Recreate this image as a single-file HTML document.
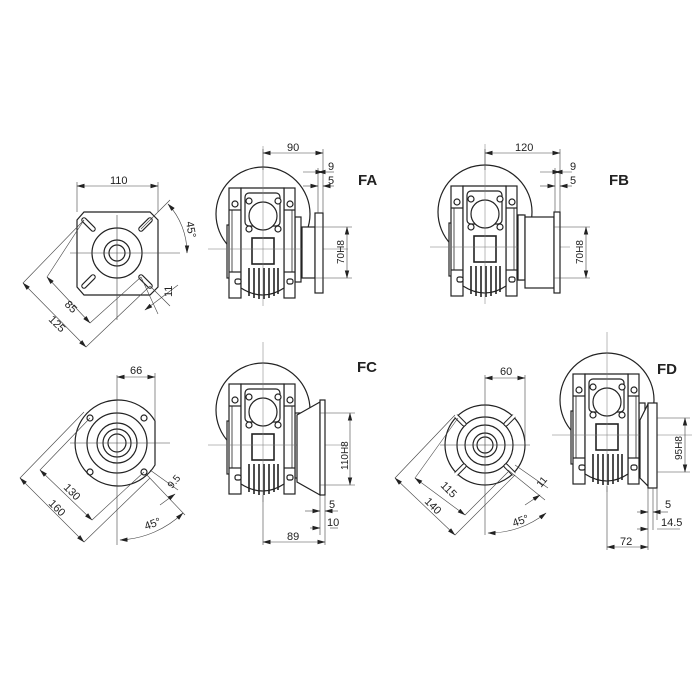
<!DOCTYPE html>
<html><head><meta charset="utf-8"><style>
html,body{margin:0;padding:0;background:#fff;width:700px;height:700px;overflow:hidden}
svg{display:block}
text{font-family:"Liberation Sans",sans-serif;fill:#222}
</style></head><body>
<svg width="700" height="700" viewBox="0 0 700 700" xmlns="http://www.w3.org/2000/svg">
<defs>
<marker id="a" markerWidth="8" markerHeight="6" refX="7.5" refY="3" orient="auto-start-reverse" markerUnits="userSpaceOnUse"><path d="M0,0.8 L8,3 L0,5.2z" fill="#222"/></marker>
<g id="gb" stroke="#222" fill="#fff" stroke-width="1.2">
  <circle cx="0" cy="-2" r="47" fill="none"/>
  <rect x="-36" y="9" width="4" height="53"/>
  <rect x="32" y="1" width="6" height="65"/>
  <rect x="-34" y="-28" width="12" height="110"/>
  <rect x="21" y="-28" width="11" height="110"/>
  <path d="M-22,-28 H21 V72 Q0,86 -22,72Z"/>
  <line x1="-34" y1="-6" x2="-22" y2="-6"/><line x1="21" y1="-6" x2="32" y2="-6"/>
  <line x1="-34" y1="56" x2="-22" y2="56"/><line x1="21" y1="56" x2="32" y2="56"/>
  <line x1="-31" y1="-6" x2="-31" y2="56" stroke-width="0.8"/><line x1="29" y1="-6" x2="29" y2="56" stroke-width="0.8"/>
  <rect x="-18" y="-23" width="35" height="33" rx="4"/>
  <circle cx="0" cy="0" r="14"/>
  <circle cx="-14" cy="-15" r="3"/><circle cx="15" cy="-15" r="3"/>
  <circle cx="-14" cy="13" r="3"/><circle cx="15" cy="13" r="3"/>
  <circle cx="-28" cy="-12" r="3"/><circle cx="27" cy="-12" r="3"/>
  <rect x="-28" y="63" width="6" height="5" rx="2"/><rect x="24" y="63" width="6" height="5" rx="2"/>
  <rect x="-11" y="22" width="22" height="26" stroke-width="1.6"/>
  <g stroke-width="1.6"><line x1="-14" y1="52" x2="-14" y2="80"/><line x1="-9" y1="52" x2="-9" y2="82"/><line x1="-4" y1="52" x2="-4" y2="83"/><line x1="1" y1="52" x2="1" y2="83"/><line x1="6" y1="52" x2="6" y2="82"/><line x1="11" y1="52" x2="11" y2="80"/><line x1="15" y1="52" x2="15" y2="78"/></g>
  <line x1="0" y1="-70" x2="0" y2="90" stroke-width="0.5" stroke="#777"/>
  <line x1="-55" y1="33" x2="85" y2="33" stroke-width="0.5" stroke="#777"/>
</g>
</defs>
<g font-size="11" stroke-linecap="butt">
<!-- FA bottom plate -->
<g stroke="#222" fill="none" stroke-width="1.2">
<path d="M84,212 H150 L158,220 V287 L150,295 H84 L77,287 V220 Z"/>
<circle cx="117" cy="253" r="25"/><circle cx="117" cy="253" r="13"/><circle cx="117" cy="253" r="8"/>
<g stroke-width="3" stroke="#fff"><line x1="84" y1="220" x2="94" y2="230"/><line x1="150" y1="220" x2="140" y2="230"/><line x1="84" y1="286" x2="94" y2="276"/><line x1="150" y1="286" x2="140" y2="276"/></g>
<g stroke-width="5.5" stroke="#222" stroke-linecap="round"><line x1="84" y1="220" x2="93" y2="229"/><line x1="150" y1="220" x2="141" y2="229"/><line x1="84" y1="286" x2="93" y2="277"/><line x1="150" y1="286" x2="141" y2="277"/></g>
<g stroke-width="3.3" stroke="#fff" stroke-linecap="round"><line x1="84" y1="220" x2="93" y2="229"/><line x1="150" y1="220" x2="141" y2="229"/><line x1="84" y1="286" x2="93" y2="277"/><line x1="150" y1="286" x2="141" y2="277"/></g>
</g>
<g stroke="#444" stroke-width="0.6" fill="none">
<line x1="117" y1="215" x2="117" y2="320"/><line x1="70" y1="253" x2="180" y2="253"/>
<line x1="77" y1="182" x2="77" y2="212"/><line x1="158" y1="182" x2="158" y2="212"/>
<line x1="77" y1="186" x2="158" y2="186" marker-start="url(#a)" marker-end="url(#a)"/>
<line x1="141" y1="229" x2="170" y2="200"/>
<path d="M168,204 A72,72 0 0 1 187,253" marker-start="url(#a)" marker-end="url(#a)"/>
<line x1="150" y1="286" x2="170" y2="306"/><line x1="141" y1="277" x2="158" y2="314"/>
<line x1="145" y1="310" x2="178" y2="285" marker-start="url(#a)"/>
<line x1="84" y1="220" x2="47" y2="277"/><line x1="141" y1="277" x2="90" y2="323"/>
<line x1="47" y1="277" x2="90" y2="323" marker-start="url(#a)" marker-end="url(#a)"/>
<line x1="84" y1="220" x2="23" y2="283"/><line x1="150" y1="286" x2="86" y2="347"/>
<line x1="23" y1="283" x2="86" y2="347" marker-start="url(#a)" marker-end="url(#a)"/>
</g>
<text x="110" y="184">110</text>
<text transform="translate(186,222) rotate(80)">45°</text>
<text transform="translate(172,297) rotate(-90)">11</text>
<text transform="translate(64,305) rotate(45)">85</text>
<text transform="translate(48,320) rotate(45)">125</text>

<!-- FA gearbox -->
<use href="#gb" x="263" y="216"/>
<g stroke="#222" fill="#fff" stroke-width="1.2"><rect x="302" y="227" width="13" height="51"/><rect x="315" y="213" width="8" height="80"/></g>
<g stroke="#444" stroke-width="0.6" fill="none">
<line x1="263" y1="149" x2="263" y2="170"/><line x1="323" y1="149" x2="323" y2="213"/><line x1="318" y1="168" x2="318" y2="213"/>
<line x1="263" y1="153" x2="323" y2="153" marker-start="url(#a)" marker-end="url(#a)"/>
<line x1="303" y1="172" x2="323" y2="172" marker-end="url(#a)"/><line x1="334" y1="172" x2="318" y2="172" marker-end="url(#a)"/>
<line x1="303" y1="186" x2="318" y2="186" marker-end="url(#a)"/><line x1="334" y1="186" x2="323" y2="186" marker-end="url(#a)"/>
<line x1="315" y1="227" x2="352" y2="227"/><line x1="315" y1="278" x2="352" y2="278"/>
<line x1="347" y1="227" x2="347" y2="278" marker-start="url(#a)" marker-end="url(#a)"/>
</g>
<text x="287" y="151">90</text><text x="328" y="170">9</text><text x="328" y="184">5</text>
<text transform="translate(344,264) rotate(-90)" font-size="10">70H8</text>
<text x="358" y="185" font-size="15" font-weight="bold">FA</text>

<!-- FB -->
<use href="#gb" x="485" y="214"/>
<g stroke="#222" fill="#fff" stroke-width="1.2"><rect x="518" y="215" width="7" height="65"/><rect x="525" y="217" width="29" height="71"/><rect x="554" y="212" width="6" height="81"/></g>
<g stroke="#444" stroke-width="0.6" fill="none">
<line x1="485" y1="149" x2="485" y2="170"/><line x1="560" y1="149" x2="560" y2="212"/><line x1="555" y1="168" x2="555" y2="212"/>
<line x1="485" y1="153" x2="560" y2="153" marker-start="url(#a)" marker-end="url(#a)"/>
<line x1="540" y1="172" x2="560" y2="172" marker-end="url(#a)"/><line x1="572" y1="172" x2="555" y2="172" marker-end="url(#a)"/>
<line x1="540" y1="186" x2="555" y2="186" marker-end="url(#a)"/><line x1="572" y1="186" x2="560" y2="186" marker-end="url(#a)"/>
<line x1="554" y1="227" x2="590" y2="227"/><line x1="554" y1="278" x2="590" y2="278"/>
<line x1="586" y1="227" x2="586" y2="278" marker-start="url(#a)" marker-end="url(#a)"/>
</g>
<text x="515" y="151">120</text><text x="570" y="170">9</text><text x="570" y="184">5</text>
<text transform="translate(583,264) rotate(-90)" font-size="10">70H8</text>
<text x="609" y="185" font-size="15" font-weight="bold">FB</text>

<!-- FC bottom -->
<g stroke="#222" fill="none" stroke-width="1.2">
<path d="M155,421 A43,43 0 1 0 155,465 Z"/>
<circle cx="117" cy="443" r="30"/><circle cx="117" cy="443" r="20"/><circle cx="117" cy="443" r="14"/><circle cx="117" cy="443" r="9"/>
<circle cx="90" cy="418" r="3"/><circle cx="144" cy="418" r="3"/><circle cx="90" cy="472" r="3"/><circle cx="144" cy="472" r="3"/>
</g>
<g stroke="#444" stroke-width="0.6" fill="none">
<line x1="117" y1="375" x2="117" y2="545"/><line x1="70" y1="443" x2="170" y2="443"/>
<line x1="155" y1="373" x2="155" y2="421"/>
<line x1="117" y1="377" x2="155" y2="377" marker-start="url(#a)" marker-end="url(#a)"/>
<line x1="90" y1="418" x2="40" y2="470"/><line x1="144" y1="472" x2="92" y2="520"/>
<line x1="40" y1="470" x2="92" y2="520" marker-start="url(#a)" marker-end="url(#a)"/>
<line x1="84" y1="412" x2="20" y2="478"/><line x1="150" y1="478" x2="84" y2="542"/>
<line x1="20" y1="478" x2="84" y2="542" marker-start="url(#a)" marker-end="url(#a)"/>
<line x1="146" y1="474" x2="185" y2="515"/><line x1="150" y1="470" x2="178" y2="490"/>
<line x1="160" y1="505" x2="175" y2="494" marker-end="url(#a)"/>
<path d="M120,540 A97,97 0 0 0 183,513" marker-start="url(#a)" marker-end="url(#a)"/>
</g>
<text x="130" y="374">66</text>
<text transform="translate(172,489) rotate(-50)" font-size="10">9.5</text>
<text transform="translate(63,488) rotate(45)">130</text>
<text transform="translate(48,504) rotate(45)">160</text>
<text transform="translate(146,530) rotate(-20)">45°</text>

<!-- FC gearbox -->
<use href="#gb" x="263" y="412"/>
<g stroke="#222" fill="#fff" stroke-width="1.2"><path d="M297,415 L320,402 V495 L297,482 Z"/><rect x="320" y="400" width="5" height="95"/></g>
<g stroke="#444" stroke-width="0.6" fill="none">
<line x1="320" y1="413" x2="355" y2="413"/><line x1="320" y1="485" x2="355" y2="485"/>
<line x1="350" y1="413" x2="350" y2="485" marker-start="url(#a)" marker-end="url(#a)"/>
<line x1="320" y1="495" x2="320" y2="535"/><line x1="325" y1="495" x2="325" y2="545"/>
<line x1="305" y1="511" x2="320" y2="511" marker-end="url(#a)"/><line x1="338" y1="511" x2="325" y2="511" marker-end="url(#a)"/>
<line x1="310" y1="528" x2="320" y2="528" marker-end="url(#a)"/><line x1="338" y1="528" x2="330" y2="528"/>
<line x1="263" y1="495" x2="263" y2="545"/>
<line x1="263" y1="542" x2="325" y2="542" marker-start="url(#a)" marker-end="url(#a)"/>
</g>
<text transform="translate(348,470) rotate(-90)" font-size="10">110H8</text>
<text x="329" y="508">5</text><text x="327" y="526">10</text><text x="287" y="540">89</text>
<text x="357" y="372" font-size="15" font-weight="bold">FC</text>

<!-- FD bottom -->
<g stroke="#222" fill="none" stroke-width="1.2">
<circle cx="485" cy="445" r="40"/><circle cx="485" cy="445" r="28"/><circle cx="485" cy="445" r="20"/><circle cx="485" cy="445" r="12"/><circle cx="485" cy="445" r="8"/>
</g>
<g stroke="#222" stroke-width="5" stroke-linecap="round"><line x1="457" y1="417" x2="464" y2="424"/><line x1="513" y1="417" x2="506" y2="424"/><line x1="457" y1="473" x2="464" y2="466"/><line x1="513" y1="473" x2="506" y2="466"/></g>
<g stroke="#fff" stroke-width="3" stroke-linecap="round"><line x1="456" y1="416" x2="464" y2="424"/><line x1="514" y1="416" x2="506" y2="424"/><line x1="456" y1="474" x2="464" y2="466"/><line x1="514" y1="474" x2="506" y2="466"/></g>
<g stroke="#444" stroke-width="0.6" fill="none">
<line x1="485" y1="375" x2="485" y2="535"/><line x1="440" y1="445" x2="530" y2="445"/>
<line x1="525" y1="375" x2="525" y2="445"/>
<line x1="485" y1="378" x2="525" y2="378" marker-start="url(#a)" marker-end="url(#a)"/>
<line x1="458" y1="418" x2="415" y2="478"/><line x1="508" y1="472" x2="465" y2="515"/>
<line x1="415" y1="478" x2="465" y2="515" marker-start="url(#a)" marker-end="url(#a)"/>
<line x1="455" y1="415" x2="395" y2="478"/><line x1="515" y1="475" x2="455" y2="535"/>
<line x1="395" y1="478" x2="455" y2="535" marker-start="url(#a)" marker-end="url(#a)"/>
<line x1="508" y1="470" x2="545" y2="500"/><line x1="515" y1="465" x2="548" y2="488"/>
<line x1="525" y1="505" x2="540" y2="495" marker-end="url(#a)"/>
<path d="M488,533 A92,92 0 0 0 546,513" marker-start="url(#a)" marker-end="url(#a)"/>
</g>
<text x="500" y="375">60</text>
<text transform="translate(541,488) rotate(-50)" font-size="10">11</text>
<text transform="translate(440,486) rotate(45)">115</text>
<text transform="translate(424,502) rotate(45)">140</text>
<text transform="translate(514,527) rotate(-20)">45°</text>

<!-- FD gearbox -->
<use href="#gb" x="607" y="402"/>
<g stroke="#222" fill="#fff" stroke-width="1.2"><path d="M640,420 L648,404 V486 L640,478 Z"/><rect x="648" y="403" width="9" height="85"/></g>
<g stroke="#444" stroke-width="0.6" fill="none">
<line x1="657" y1="418" x2="690" y2="418"/><line x1="657" y1="472" x2="690" y2="472"/>
<line x1="685" y1="418" x2="685" y2="472" marker-start="url(#a)" marker-end="url(#a)"/>
<line x1="648" y1="488" x2="648" y2="550"/><line x1="653" y1="488" x2="653" y2="530"/><line x1="657" y1="488" x2="657" y2="520"/>
<line x1="637" y1="512" x2="648" y2="512" marker-end="url(#a)"/><line x1="668" y1="512" x2="653" y2="512" marker-end="url(#a)"/>
<line x1="637" y1="529" x2="648" y2="529" marker-end="url(#a)"/><line x1="680" y1="529" x2="657" y2="529"/>
<line x1="607" y1="486" x2="607" y2="550"/>
<line x1="607" y1="547" x2="648" y2="547" marker-start="url(#a)" marker-end="url(#a)"/>
</g>
<text transform="translate(682,460) rotate(-90)" font-size="10">95H8</text>
<text x="665" y="508">5</text><text x="661" y="526">14.5</text><text x="620" y="545">72</text>
<text x="657" y="374" font-size="15" font-weight="bold">FD</text>
</g>
</svg>
</body></html>
